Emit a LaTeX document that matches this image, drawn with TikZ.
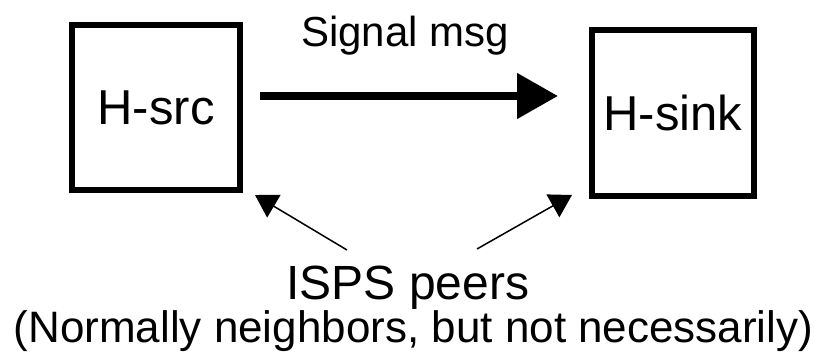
\documentclass[tikz,border=0pt]{standalone}
\usepackage{fontspec}
\setmainfont{Liberation Sans}
\usetikzlibrary{arrows.meta}
\begin{document}
\begin{tikzpicture}[x=1pt,y=-1pt,
  hostbox/.style={draw, line width=6pt, inner sep=0pt,
    font=\fontsize{49}{59}\selectfont},
  label/.style={anchor=base, inner sep=0pt},
  sigarrow/.style={line width=8pt, -{Triangle[length=41pt,width=44pt]}},
  peerarrow/.style={line width=1.5pt, -{Triangle[length=22pt,width=26pt]}}]
\useasboundingbox (0,0) rectangle (823,363);
% the two hosts
\node[hostbox, minimum width=168pt, minimum height=165pt] (src) at (156,107.5) {H-src};
\node[hostbox, minimum width=162pt, minimum height=166pt] (sink) at (673,113) {H-sink};
% signal message between the hosts
\coordinate (sigstart) at (260,96);
\coordinate (sigend) at (558,96);
\draw[sigarrow] (sigstart) -- (sigend);
\node[label, font=\fontsize{42}{50}\selectfont] (sig) at (405,47) {Signal msg};
% peers
\node[label, font=\fontsize{48}{58}\selectfont] (peers) at (408,300) {ISPS peers};
\node[label, font=\fontsize{44}{53}\selectfont] (note) at (413.5,343) {(Normally neighbors, but not necessarily)};
\coordinate (pl) at (347,250);
\coordinate (pr) at (477,249);
\coordinate (tl) at (255,195);
\coordinate (tr) at (572,195);
\draw[peerarrow] (pl) -- (tl);
\draw[peerarrow] (pr) -- (tr);
\end{tikzpicture}
\end{document}
